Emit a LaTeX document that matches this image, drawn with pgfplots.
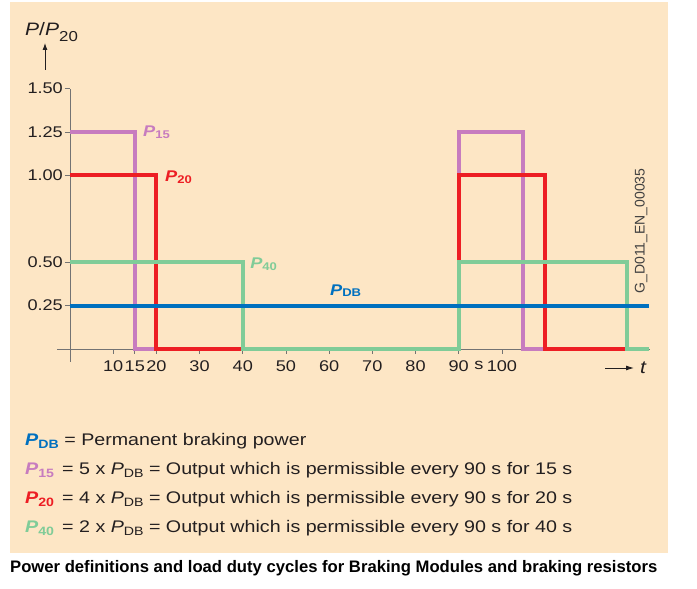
\documentclass[border=0pt]{standalone}
\usepackage{pgfplots}
\pgfplotsset{compat=1.18}
\usetikzlibrary{arrows.meta}
\usepackage{fontspec}
\setmainfont[FakeStretch=1.17]{Liberation Sans}
\newfontfamily\capfont{Liberation Sans}
\usepackage{graphicx}
\definecolor{bg}{RGB}{253,230,197}
\definecolor{cpur}{RGB}{199,124,191}
\definecolor{cred}{RGB}{237,30,36}
\definecolor{cgrn}{RGB}{128,204,152}
\definecolor{cblu}{RGB}{0,112,191}
\definecolor{ctxt}{RGB}{35,31,32}
\newcommand{\PB}[1]{{\bfseries\itshape P}\raisebox{-0.12em}{\scalebox{0.72}{\bfseries #1}}}
\newcommand{\PI}[1]{{\itshape P}\raisebox{-0.12em}{\scalebox{0.72}{#1}}}
\begin{document}
\begin{tikzpicture}[x=1pt,y=1pt]
\path[use as bounding box] (0,0) rectangle (697,589);
\fill[bg] (10,36) rectangle (668,587);
\begin{axis}[
 at={(57.04pt,227pt)}, anchor=south west,
 scale only axis, width=593pt, height=273.4pt,
 xmin=-3, xmax=134.3, ymin=-0.075, ymax=1.5,
 axis lines=middle, axis line style={-, draw=black!55, line width=0.7pt},
 xtick={10,15,20,30,40,50,60,70,80,90,100},
 ytick={0.25,0.5,1,1.25,1.5},
 tick align=outside, major tick length=5pt,
 tick style={draw=black!55, line width=0.7pt},
 yticklabel style={/pgf/number format/fixed, /pgf/number format/fixed zerofill, /pgf/number format/precision=2, inner sep=2pt},
 /pgf/number format/assume math mode=true,
 ticklabel style={font=\fontsize{15.5}{15.5}\selectfont, text=ctxt},
 xticklabel style={inner sep=1pt, yshift=-6pt},
 clip=false,
 line join=miter,
]
\addplot[cpur, line width=4pt] coordinates {(0,1.25)(15,1.25)(15,0)(90,0)(90,1.25)(105,1.25)(105,0)(134,0)};
\addplot[cred, line width=4pt] coordinates {(0,1)(20,1)(20,0)(90,0)(90,1)(110,1)(110,0)(134,0)};
\addplot[cgrn, line width=4pt] coordinates {(0,0.5)(40,0.5)(40,0)(90,0)(90,0.5)(129,0.5)(129,0)(134,0)};
\addplot[cblu, line width=4pt] coordinates {(0,0.25)(134,0.25)};
\node[anchor=west, text=cpur, font=\fontsize{15.5}{15.5}\selectfont, inner sep=0] at (axis cs:16.9,1.25) {\PB{15}};
\node[anchor=west, text=cred, font=\fontsize{15.5}{15.5}\selectfont, inner sep=0] at (axis cs:22,0.99) {\PB{20}};
\node[anchor=west, text=cgrn, font=\fontsize{15.5}{15.5}\selectfont, inner sep=0] at (axis cs:41.7,0.49) {\PB{40}};
\node[anchor=west, text=cblu, font=\fontsize{15.5}{15.5}\selectfont, inner sep=0] at (axis cs:60.2,0.336) {\PB{DB}};
\node[anchor=north, text=ctxt, font=\fontsize{15.5}{15.5}\selectfont, inner sep=1pt, yshift=-11pt] at (axis cs:94.7,0) {s};
\end{axis}
% y label
\node[anchor=base west, text=ctxt, font=\fontsize{18}{18}\selectfont, inner sep=0] at (25,553) {\textit{P}/\textit{P}\raisebox{-0.3em}{\scalebox{0.8}{20}}};
\draw[ctxt, line width=0.9pt, -{Latex[length=7pt,width=5pt]}] (45,519) -- (45,546);
% x label
\draw[ctxt, line width=0.9pt, -{Latex[length=8pt,width=5pt]}] (605,221) -- (634,221);
\node[anchor=base west, text=ctxt, font=\fontsize{18}{18}\selectfont, inner sep=0] at (640,215) {\textit{t}};
% code
\node[rotate=90, anchor=center, text=black!75, font=\capfont\fontsize{14}{14}\selectfont, inner sep=0] at (641,358) {G\_D011\_EN\_00035};
% legend
\begin{scope}[every node/.style={anchor=base west, text=ctxt, font=\fontsize{16.8}{16.8}\selectfont, inner sep=0}]
\node at (25,143) {\textcolor{cblu}{\PB{DB}}\,\,= Permanent braking power};
\node at (25,114) {\makebox[37pt][l]{\textcolor{cpur}{\PB{15}}}= 5 x \PI{DB} = Output which is permissible every 90 s for 15 s};
\node at (25,85) {\makebox[37pt][l]{\textcolor{cred}{\PB{20}}}= 4 x \PI{DB} = Output which is permissible every 90 s for 20 s};
\node at (25,56) {\makebox[37pt][l]{\textcolor{cgrn}{\PB{40}}}= 2 x \PI{DB} = Output which is permissible every 90 s for 40 s};
\end{scope}
\node[anchor=base west, inner sep=0, font=\capfont\bfseries\fontsize{15}{15}\selectfont] at (10,16) {\resizebox{647pt}{!}{Power definitions and load duty cycles for Braking Modules and braking resistors}};
\end{tikzpicture}
\end{document}
